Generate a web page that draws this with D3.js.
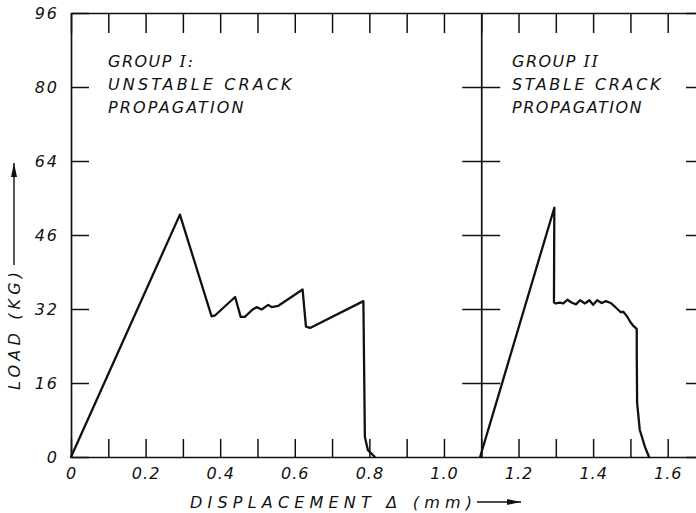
<!DOCTYPE html>
<html>
<head>
<meta charset="utf-8">
<script src="https://cdn.jsdelivr.net/npm/d3@7"></script>
<style>
  body { margin: 0; background: #fff; }
  text { font-family: "DejaVu Sans", sans-serif; font-style: italic; fill: #111; }
</style>
</head>
<body>
<svg id="chart" width="696" height="513"></svg>
<script>
// Load–displacement records (displacement in mm, load in kg)
const groupIDisp = [0, 0.292, 0.377, 0.386, 0.440, 0.455, 0.466, 0.487, 0.498, 0.511, 0.529, 0.538, 0.556, 0.621, 0.630, 0.641, 0.784, 0.788, 0.796, 0.815];
const groupILoad = [0, 52.4, 30.4, 30.6, 34.6, 30.3, 30.3, 31.9, 32.4, 31.9, 32.9, 32.4, 32.7, 36.2, 28.2, 27.9, 33.7, 4.3, 1.5, 0];

const groupIIDisp = [1.097, 1.296, 1.295, 1.300, 1.311, 1.320, 1.331, 1.342, 1.354, 1.365, 1.378, 1.390, 1.400, 1.411, 1.423, 1.434, 1.447, 1.456, 1.465, 1.474, 1.481, 1.491, 1.499, 1.507, 1.517, 1.517, 1.518, 1.525, 1.539, 1.550];
const groupIILoad = [0, 53.9, 33.4, 33.2, 33.4, 33.2, 34.0, 33.4, 33.0, 33.9, 33.2, 33.9, 32.9, 33.9, 33.3, 33.7, 33.3, 32.7, 32.0, 31.3, 31.4, 30.4, 29.3, 28.4, 27.7, 22.5, 11.7, 5.9, 2.2, 0];

const xTickValues = [0, 0.1, 0.2, 0.3, 0.4, 0.5, 0.6, 0.7, 0.8, 0.9, 1.0, 1.1, 1.2, 1.3, 1.4, 1.5, 1.6, 1.7];
const xTickLabels = {"0": "0", "0.2": "0.2", "0.4": "0.4", "0.6": "0.6", "0.8": "0.8", "1": "1.0", "1.2": "1.2", "1.4": "1.4", "1.6": "1.6"};
const yTickValues = [0, 16, 32, 48, 64, 80, 96];
const yTickLabels = ["0", "16", "32", "46", "64", "80", "96"];
const groupBoundary = 1.1;

const svg = d3.select("#chart");
const x = d3.scaleLinear().domain([0, 1.7]).range([71, 705]);
const y = d3.scaleLinear().domain([0, 96]).range([457, 13]);

function styleAxis(g) {
  g.selectAll(".domain").attr("stroke", "#111").attr("stroke-width", 1.7);
  g.selectAll(".tick line").attr("stroke", "#111").attr("stroke-width", 1.5);
  g.selectAll(".tick text").attr("fill", "#111")
    .style("font-family", '"DejaVu Sans", sans-serif').style("font-style", "italic")
    .attr("font-size", 16);
}

// bottom axis with inward ticks every 0.1
const fmtX = v => {
  const k = String(+v.toFixed(1));
  return xTickLabels[k] !== undefined ? xTickLabels[k] : "";
};
svg.append("g").attr("transform", `translate(0,${y(0)})`)
  .call(d3.axisBottom(x).tickValues(xTickValues).tickSizeInner(-18).tickSizeOuter(0).tickPadding(11).tickFormat(fmtX))
  .call(styleAxis)
  .call(g => g.selectAll(".tick text").attr("letter-spacing", 1));

// top axis
svg.append("g").attr("transform", `translate(0,${y(96)})`)
  .call(d3.axisTop(x).tickValues(xTickValues).tickSizeInner(-20).tickSizeOuter(0).tickFormat(""))
  .call(styleAxis);

// left axis
svg.append("g").attr("transform", `translate(${x(0)},0)`)
  .call(d3.axisLeft(y).tickValues(yTickValues).tickSizeInner(-18).tickSizeOuter(0).tickPadding(12)
    .tickFormat((d, i) => yTickLabels[i]))
  .call(styleAxis)
  .call(g => g.selectAll(".tick text").attr("letter-spacing", 2));

// right axis (frame edge)
svg.append("g").attr("transform", `translate(${x(1.7)},0)`)
  .call(d3.axisRight(y).tickValues(yTickValues).tickSizeInner(-19).tickSizeOuter(0).tickFormat(""))
  .call(styleAxis);

// divider between the two groups, ticks on both sides
const xb = x(groupBoundary);
svg.append("g").attr("transform", `translate(${xb},0)`)
  .call(d3.axisLeft(y).tickValues(yTickValues.slice(1, -1)).tickSizeInner(19).tickSizeOuter(0).tickFormat(""))
  .call(styleAxis);
svg.append("g").attr("transform", `translate(${xb},0)`)
  .call(d3.axisRight(y).tickValues(yTickValues.slice(1, -1)).tickSizeInner(19).tickSizeOuter(0).tickFormat(""))
  .call(styleAxis)
  .call(g => g.select(".domain").remove());

// curves
const line = d3.line().x(d => x(d[0])).y(d => y(d[1])).curve(d3.curveLinear);
[[groupIDisp, groupILoad], [groupIIDisp, groupIILoad]].forEach(([xs, ys]) => {
  svg.append("path")
    .datum(xs.map((v, i) => [v, ys[i]]))
    .attr("d", line)
    .attr("fill", "none")
    .attr("stroke", "#111")
    .attr("stroke-width", 2.3)
    .attr("stroke-linejoin", "round")
    .attr("stroke-linecap", "round");
});

// group annotations
const noteFont = 16;
const notes = [
  {x: 108, lines: [["GROUP ", "I:"], ["UNSTABLE CRACK"], ["PROPAGATION"]], widths: [null, 185, 137]},
  {x: 512, lines: [["GROUP ", "II"], ["STABLE CRACK"], ["PROPAGATION"]], widths: [null, 150, 131]}
];
const baselines = [67, 90, 113];
notes.forEach(n => {
  n.lines.forEach((parts, i) => {
    const t = svg.append("text")
      .attr("x", n.x).attr("y", baselines[i])
      .attr("font-size", noteFont)
      .attr("letter-spacing", 1.5);
    if (n.widths[i]) t.attr("textLength", n.widths[i]).attr("lengthAdjust", "spacing");
    t.append("tspan").text(parts[0]);
    if (parts[1]) t.append("tspan").style("font-family", '"DejaVu Serif", serif').text(parts[1]);
  });
});

// axis titles
svg.append("text")
  .attr("x", 190).attr("y", 508)
  .attr("font-size", 16)
  .attr("textLength", 282).attr("lengthAdjust", "spacing")
  .text("DISPLACEMENT Δ  (mm)");

const arrow = (x1, y1, x2, y2) => {
  svg.append("line").attr("x1", x1).attr("y1", y1).attr("x2", x2).attr("y2", y2)
    .attr("stroke", "#111").attr("stroke-width", 1.4);
  const ang = Math.atan2(y2 - y1, x2 - x1);
  const L = 14, W = 3;
  const bx = x2 - L * Math.cos(ang), by = y2 - L * Math.sin(ang);
  const px = -Math.sin(ang) * W, py = Math.cos(ang) * W;
  svg.append("path")
    .attr("d", `M${x2},${y2}L${bx + px},${by + py}L${bx - px},${by - py}Z`)
    .attr("fill", "#111");
};
arrow(477, 502, 521, 502);

svg.append("text")
  .attr("transform", "translate(20,390) rotate(-90)")
  .attr("font-size", 16)
  .attr("textLength", 118).attr("lengthAdjust", "spacing")
  .text("LOAD (KG)");
arrow(14, 265, 14, 163);
</script>
</body>
</html>
